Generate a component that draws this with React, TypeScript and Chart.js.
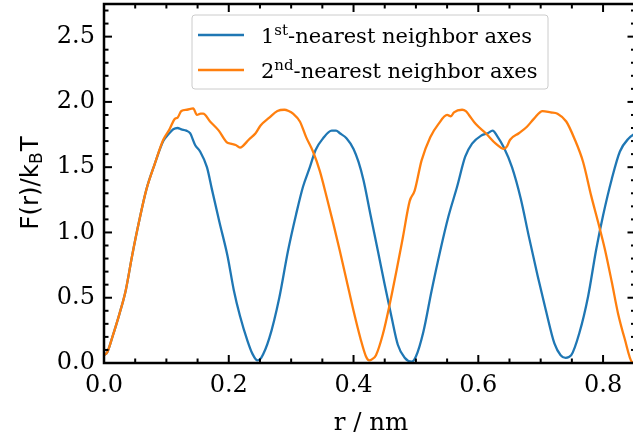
import { useEffect, useRef } from "react";
import { Chart, registerables } from "chart.js";

Chart.register(...registerables);

// ---- data ----
const firstX = [
  0.0, 0.005, 0.0135, 0.025, 0.035, 0.045, 0.056, 0.068, 0.081, 0.095, 0.103, 0.111, 0.118, 0.124, 0.132, 0.138,
  0.146, 0.154, 0.165, 0.173, 0.185, 0.198, 0.208, 0.218, 0.23, 0.238, 0.246, 0.252, 0.265, 0.281, 0.295, 0.308,
  0.319, 0.33, 0.339, 0.351, 0.365, 0.372, 0.378, 0.389, 0.4, 0.408, 0.416, 0.427, 0.439, 0.45, 0.461, 0.471,
  0.482, 0.493, 0.5, 0.512, 0.525, 0.539, 0.552, 0.566, 0.579, 0.59, 0.604, 0.615, 0.623, 0.63, 0.641, 0.654,
  0.668, 0.681, 0.695, 0.708, 0.722, 0.732, 0.74, 0.749, 0.762, 0.776, 0.789, 0.8, 0.814, 0.827, 0.841, 0.852,
];
const firstY = [
  0.06, 0.08, 0.2, 0.38, 0.56, 0.82, 1.08, 1.33, 1.52, 1.7, 1.75, 1.79, 1.8, 1.79, 1.78, 1.76,
  1.67, 1.62, 1.5, 1.33, 1.08, 0.82, 0.56, 0.36, 0.17, 0.07, 0.02, 0.04, 0.19, 0.5, 0.86, 1.14,
  1.35, 1.5, 1.63, 1.72, 1.78, 1.78, 1.76, 1.72, 1.64, 1.54, 1.4, 1.14, 0.86, 0.6, 0.35, 0.14,
  0.04, 0.01, 0.05, 0.24, 0.55, 0.86, 1.12, 1.35, 1.58, 1.68, 1.74, 1.76, 1.78, 1.74, 1.65, 1.5,
  1.26, 0.97, 0.67, 0.41, 0.15, 0.06, 0.04, 0.06, 0.23, 0.51, 0.87, 1.13, 1.41, 1.62, 1.72, 1.76,
];
const secondX = [
  0.0, 0.005, 0.0135, 0.025, 0.035, 0.045, 0.056, 0.068, 0.081, 0.095, 0.105, 0.1135, 0.118, 0.124, 0.133, 0.143,
  0.149, 0.155, 0.159, 0.17, 0.184, 0.197, 0.203, 0.211, 0.218, 0.222, 0.232, 0.243, 0.251, 0.265, 0.278, 0.289,
  0.296, 0.303, 0.314, 0.324, 0.335, 0.346, 0.357, 0.368, 0.378, 0.389, 0.4, 0.411, 0.42, 0.425, 0.43, 0.436,
  0.447, 0.458, 0.469, 0.479, 0.49, 0.498, 0.509, 0.523, 0.536, 0.55, 0.556, 0.561, 0.574, 0.58, 0.585, 0.596,
  0.612, 0.628, 0.641, 0.646, 0.651, 0.665, 0.678, 0.689, 0.703, 0.716, 0.727, 0.741, 0.754, 0.768, 0.781, 0.792,
  0.803, 0.814, 0.824, 0.835, 0.846, 0.852,
];
const secondY = [
  0.06, 0.08, 0.2, 0.38, 0.56, 0.82, 1.08, 1.33, 1.52, 1.71, 1.79, 1.87, 1.88, 1.93, 1.94, 1.95,
  1.9, 1.91, 1.91, 1.85, 1.78, 1.69, 1.68, 1.67, 1.65, 1.66, 1.71, 1.76, 1.82, 1.88, 1.93, 1.94,
  1.93, 1.91, 1.85, 1.73, 1.62, 1.47, 1.27, 1.06, 0.86, 0.63, 0.4, 0.19, 0.05, 0.02, 0.03, 0.06,
  0.22, 0.45, 0.71, 0.96, 1.24, 1.32, 1.55, 1.73, 1.83, 1.9, 1.89, 1.92, 1.94, 1.93, 1.9, 1.83,
  1.76, 1.68, 1.64, 1.66, 1.71, 1.76, 1.81, 1.87, 1.93, 1.92, 1.91, 1.85, 1.72, 1.54, 1.28, 1.08,
  0.87, 0.62, 0.38, 0.18, 0.01, 0.0,
];
const xTicks = [0.0, 0.2, 0.4, 0.6, 0.8];
const yTicks = [0.0, 0.5, 1.0, 1.5, 2.0, 2.5];
// legend labels: [base, superscript, rest]
const firstLabel = ["1", "st", "-nearest neighbor axes"];
const secondLabel = ["2", "nd", "-nearest neighbor axes"];
const xTitle = "r / nm";
const yTitle = ["F(r)/k", "B", "T"];

const BLUE = "#1f77b4";
const ORANGE = "#ff7f0e";
const SERIF = "'DejaVu Serif'";
const SANS = "'DejaVu Sans'";

const framePlugin = {
  id: "frame",
  afterDatasetsDraw(chart: any) {
    const { ctx, chartArea: a, scales } = chart;
    const xs = scales.x;
    const ys = scales.y;
    ctx.save();
    ctx.strokeStyle = "#000";
    ctx.lineCap = "butt";
    const line = (x1: number, y1: number, x2: number, y2: number) => {
      ctx.beginPath();
      ctx.moveTo(x1, y1);
      ctx.lineTo(x2, y2);
      ctx.stroke();
    };
    ctx.lineWidth = 2;
    for (let i = 0; i * 0.05 <= xs.max + 1e-9; i++) {
      const p = xs.getPixelForValue(i * 0.05);
      const L = i % 4 === 0 ? 8 : 4.5;
      line(p, a.bottom, p, a.bottom - L);
      line(p, a.top, p, a.top + L);
    }
    for (let i = 0; i * 0.1 <= ys.max + 1e-9; i++) {
      const p = ys.getPixelForValue(i * 0.1);
      const L = i % 5 === 0 ? 8 : 4.5;
      line(a.left, p, a.left + L, p);
      line(a.right, p, a.right - L, p);
    }
    ctx.lineWidth = 2.5;
    ctx.strokeRect(a.left, a.top, a.right - a.left, a.bottom - a.top);
    ctx.restore();
  },
  afterDraw(chart: any) {
    const { ctx, chartArea: a } = chart;
    ctx.save();
    // axis titles
    ctx.fillStyle = "#000";
    ctx.font = `24.5px ${SERIF}`;
    ctx.textAlign = "center";
    ctx.textBaseline = "middle";
    ctx.fillText(xTitle, 371, 424);

    ctx.translate(29, (a.top + a.bottom) / 2);
    ctx.rotate(-Math.PI / 2);
    ctx.textAlign = "left";
    ctx.textBaseline = "alphabetic";
    const big = `24.5px ${SANS}`;
    const small = `17px ${SANS}`;
    ctx.font = big;
    const w1 = ctx.measureText(yTitle[0]).width;
    ctx.font = small;
    const w2 = ctx.measureText(yTitle[1]).width;
    ctx.font = big;
    const w3 = ctx.measureText(yTitle[2]).width;
    const x0 = -(w1 + w2 + w3) / 2;
    const base = 9;
    ctx.fillText(yTitle[0], x0, base);
    ctx.font = small;
    ctx.fillText(yTitle[1], x0 + w1, base + 4);
    ctx.font = big;
    ctx.fillText(yTitle[2], x0 + w1 + w2 + 1, base);
    ctx.restore();

    // legend
    ctx.save();
    const bx = 192, by = 15, bw = 356, bh = 74, r = 3;
    ctx.beginPath();
    ctx.moveTo(bx + r, by);
    ctx.arcTo(bx + bw, by, bx + bw, by + bh, r);
    ctx.arcTo(bx + bw, by + bh, bx, by + bh, r);
    ctx.arcTo(bx, by + bh, bx, by, r);
    ctx.arcTo(bx, by, bx + bw, by, r);
    ctx.closePath();
    ctx.fillStyle = "rgba(255,255,255,0.8)";
    ctx.fill();
    ctx.strokeStyle = "#cccccc";
    ctx.lineWidth = 1;
    ctx.stroke();

    const rows = [
      { label: firstLabel, color: BLUE, y: 35 },
      { label: secondLabel, color: ORANGE, y: 70 },
    ];
    for (const row of rows) {
      ctx.strokeStyle = row.color;
      ctx.lineWidth = 2.5;
      ctx.beginPath();
      ctx.moveTo(198, row.y);
      ctx.lineTo(244, row.y);
      ctx.stroke();
      ctx.fillStyle = "#000";
      ctx.textAlign = "left";
      ctx.textBaseline = "alphabetic";
      const bl = row.y + 8;
      const f1 = `21px ${SERIF}`;
      const f2 = `15px ${SERIF}`;
      let x = 261;
      ctx.font = f1;
      ctx.fillText(row.label[0], x, bl);
      x += ctx.measureText(row.label[0]).width;
      ctx.font = f2;
      ctx.fillText(row.label[1], x, bl - 8);
      x += ctx.measureText(row.label[1]).width;
      ctx.font = f1;
      ctx.fillText(row.label[2], x, bl);
    }
    ctx.restore();
  },
};

export default function App() {
  const ref = useRef<HTMLCanvasElement | null>(null);
  useEffect(() => {
    if (!ref.current) return;
    const toPts = (xs: number[], ys: number[]) => xs.map((x, i) => ({ x, y: ys[i] }));
    const chart = new Chart(ref.current, {
      type: "scatter",
      data: {
        datasets: [
          {
            label: firstLabel.join(""),
            data: toPts(firstX, firstY),
            showLine: true,
            borderColor: BLUE,
            backgroundColor: BLUE,
            borderWidth: 2.3,
            pointRadius: 0,
            cubicInterpolationMode: "monotone",
            order: 1,
          },
          {
            label: secondLabel.join(""),
            data: toPts(secondX, secondY),
            showLine: true,
            borderColor: ORANGE,
            backgroundColor: ORANGE,
            borderWidth: 2.3,
            pointRadius: 0,
            cubicInterpolationMode: "monotone",
            order: 0,
          },
        ],
      },
      options: {
        responsive: false,
        animation: false,
        devicePixelRatio: 1,
        layout: { padding: { top: 4, right: 1.5, left: 0, bottom: 0 } },
        plugins: { legend: { display: false }, tooltip: { enabled: false } },
        scales: {
          x: {
            type: "linear",
            min: 0,
            max: 0.852,
            grid: { display: false, drawTicks: false },
            border: { display: false },
            afterBuildTicks: (s: any) => {
              s.ticks = xTicks.map((v) => ({ value: v }));
            },
            afterFit: (s: any) => {
              s.height = 78;
              s.paddingLeft = 0;
              s.paddingRight = 0;
              s.paddingTop = 0;
              s.paddingBottom = 0;
            },
            ticks: {
              color: "#000",
              padding: 8,
              maxRotation: 0,
              font: { family: "DejaVu Serif", size: 24 },
              callback: (v: any) => Number(v).toFixed(1),
            },
          },
          y: {
            type: "linear",
            min: 0,
            max: 2.75,
            grid: { display: false, drawTicks: false },
            border: { display: false },
            afterBuildTicks: (s: any) => {
              s.ticks = yTicks.map((v) => ({ value: v }));
            },
            afterFit: (s: any) => {
              s.width = 104;
              s.paddingLeft = 0;
              s.paddingRight = 0;
              s.paddingTop = 0;
              s.paddingBottom = 0;
            },
            ticks: {
              color: "#000",
              padding: 9,
              font: { family: "DejaVu Serif", size: 24 },
              callback: (v: any) => Number(v).toFixed(1),
            },
          },
        },
      },
      plugins: [framePlugin],
    } as any);
    return () => chart.destroy();
  }, []);
  return (
    <div style={{ position: "fixed", left: 0, top: 0, width: 633, height: 441, overflow: "hidden", background: "#fff" }}>
      <canvas ref={ref} width={637} height={441} style={{ display: "block", width: 637, height: 441 }} />
    </div>
  );
}
